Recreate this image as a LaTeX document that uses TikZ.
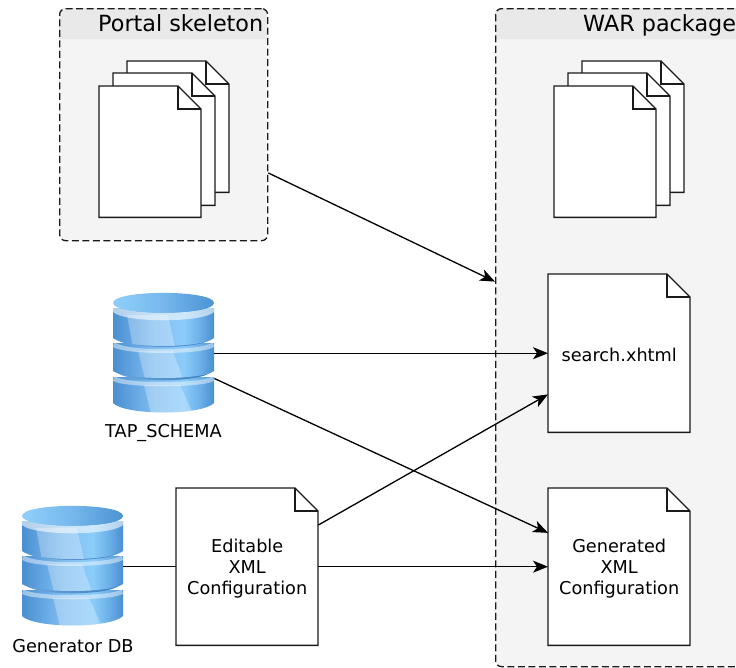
\documentclass[tikz,border=0pt]{standalone}
\usepackage{fontspec}
\setmainfont{DejaVu Sans}
\usetikzlibrary{arrows.meta,calc}
\definecolor{groupfill}{HTML}{F4F4F4}
\definecolor{headfill}{HTML}{E9E9E9}
\definecolor{linecol}{HTML}{1A1A1A}
\definecolor{grooveblue}{HTML}{3F7FBE}
\definecolor{groovelight}{HTML}{6FA6DC}
\pgfdeclarehorizontalshading{bandshade}{100bp}{
  rgb(0bp)=(0.29,0.56,0.82);
  rgb(25bp)=(0.29,0.56,0.82);
  rgb(36bp)=(0.40,0.66,0.89);
  rgb(45bp)=(0.50,0.74,0.94);
  rgb(60bp)=(0.55,0.80,0.98);
  rgb(68bp)=(0.42,0.69,0.91);
  rgb(75bp)=(0.29,0.56,0.82);
  rgb(100bp)=(0.29,0.56,0.82)}
\pgfdeclarehorizontalshading{topshade}{100bp}{
  rgb(0bp)=(0.56,0.81,0.98);
  rgb(25bp)=(0.56,0.81,0.98);
  rgb(50bp)=(0.46,0.72,0.93);
  rgb(75bp)=(0.30,0.58,0.83);
  rgb(100bp)=(0.30,0.58,0.83)}
\tikzset{
  x=1pt,y=-1pt,
  groupbox/.style={draw=linecol,line width=1.3pt,dash pattern=on 7pt off 3.5pt,rounded corners=6pt,inner sep=0pt,anchor=north west},
  docbox/.style={inner sep=0pt,anchor=north west,align=center,font=\fontsize{17.7pt}{21pt}\selectfont,text=black},
  doctext/.style={docbox,anchor=center,yshift=-1.5pt},
  docline/.style={draw=linecol,line width=1.4pt,fill=white,line join=miter},
  dbbox/.style={inner sep=0pt,anchor=north west,minimum width=101pt,minimum height=120pt},
  dblabel/.style={inner sep=0pt,font=\fontsize{17.7pt}{20pt}\selectfont,text=black},
  title/.style={inner sep=0pt,anchor=base west,font=\fontsize{22.3pt}{24pt}\selectfont,text=black},
  conn/.style={draw=black,line width=1.3pt},
  arrowconn/.style={conn,-{Stealth[length=15pt,width=12pt,inset=4pt]}}
}
% name, left, top, width, height, text
\newcommand{\docnode}[6]{%
  \node[docbox,minimum width=#4pt,minimum height=#5pt] (#1) at (#2,#3) {};
  \draw[docline] (#1.north west) -- ++(#4-23,0) -- ++(23,23) |- (#1.south west) -- cycle;
  \draw[docline,fill=none] ($(#1.north west)+(#4-23,0)$) -- ++(0,23) -- ++(23,0);
  \node[doctext] at (#1.center) {#6};
}
% lower-edge curve helper: from (0,y) to (101,y) bulging down by b
\newcommand{\dbdown}[2]{(0,#1) .. controls (12,#1+1.33*#2) and (89,#1+1.33*#2) .. (101,#1)}
% band: top, bottom side, bulge, shine corners
\newcommand{\dbband}[8]{%
  \shade[shading=bandshade] (0,#1) -- \dbdown{#2}{#3} -- (101,#1) -- cycle;
  \begin{scope}
    \clip (0,#1) -- \dbdown{#2}{#3} -- (101,#1) -- cycle;
    \fill[white,opacity=.28] (#5,#4) -- (#6,#4) -- (#8,#2+#3+1) -- (#7,#2+#3+1) -- cycle;
  \end{scope}
}
\newcommand{\dbicon}[3]{%
  \node[dbbox] (#1) at (#2,#3) {};
  \begin{scope}[shift={(#1.north west)}]
    % bottom band
    \dbband{84}{110}{9.5}{92}{31}{67}{38}{80}
    \fill[white,opacity=.45] (1,83) .. controls (12,91.3) and (89,91.3) .. (100,83) -- (101,88) .. controls (89,95) and (12,95) .. (0,88) -- cycle;
    \shade[left color=groovelight,right color=grooveblue] (3,79) .. controls (14,90) and (87,90) .. (98,79) -- (98,76) -- (3,76) -- cycle;
    % middle band
    \dbband{50}{78}{7}{58}{25}{60}{32}{70}
    \fill[white,opacity=.45] (1,49) .. controls (12,58.6) and (89,58.6) .. (100,49) -- (101,54) .. controls (89,62) and (12,62) .. (0,54) -- cycle;
    \shade[left color=groovelight,right color=grooveblue] (3,46) .. controls (14,56.6) and (87,56.6) .. (98,46) -- (98,43) -- (3,43) -- cycle;
    % top band
    \dbband{15}{45}{8}{22}{14}{55}{20}{62}
    \fill[white,opacity=.42] (0,10) .. controls (0,23) and (101,23) .. (101,10) -- (101,19) .. controls (89,30) and (12,30) .. (0,19) -- cycle;
    \shade[shading=topshade] (0,10) .. controls (0,-3.5) and (101,-3.5) .. (101,10) .. controls (101,23) and (0,23) .. (0,10) -- cycle;
    \fill[white,opacity=.28] (0,10) .. controls (0,23) and (101,23) .. (101,10) -- (101,19) .. controls (89,30) and (12,30) .. (0,19) -- cycle;
    \shade[shading=topshade] (2,10) .. controls (2,-2.5) and (99,-2.5) .. (99,10) .. controls (99,23) and (2,23) .. (2,10) -- cycle;
  \end{scope}
}
\begin{document}
\begin{tikzpicture}
\useasboundingbox (0,0) rectangle (736,667);
\clip (0,0) rectangle (736,667);
% groups
\fill[groupfill,rounded corners=6pt] (59,8) rectangle (267,240);
\fill[groupfill,rounded corners=6pt] (495,8) rectangle (750,666);
\fill[headfill,rounded corners=6pt] (59,39) -- (59,8) -- (267,8) -- (267,39);
\fill[headfill,rounded corners=6pt] (495,39) -- (495,8) -- (750,8) -- (750,39);
\node[groupbox,minimum width=208pt,minimum height=232pt] (portal) at (59,8) {};
\node[groupbox,minimum width=255pt,minimum height=658pt] (war) at (495,8) {};
\node[title] (portaltitle) at (98,31) {Portal skeleton};
\node[title] (wartitle) at (583,31) {WAR package};
% stacks
\docnode{pa}{127}{61}{102}{131}{}
\docnode{pb}{113}{73}{102}{132}{}
\docnode{pc}{99}{86}{102}{131}{}
\docnode{wa}{582}{61}{102}{131}{}
\docnode{wb}{568}{73}{102}{132}{}
\docnode{wc}{554}{86}{102}{131}{}
% documents
\docnode{search}{548}{274}{142}{158}{search.xhtml}
\docnode{generated}{548}{488}{142}{157}{Generated\\XML\\Configuration}
\docnode{editable}{176}{488}{142}{157}{Editable\\XML\\Configuration}
% databases
\dbicon{tap}{113}{293}
\dbicon{gendb}{22}{506}
\node[dblabel] (taplabel) at (163.5,433.5) {TAP\_SCHEMA};
\node[dblabel] (genlabel) at (73,646.5) {Generator DB};
% connectors
\draw[arrowconn] ($(portal.north east)!0.707!(portal.south east)$) -- ($(war.north west)!0.415!(war.south west)$);
\draw[arrowconn] (tap.east |- search.center) -- (search.west);
\draw[arrowconn] ($(tap.south east)!0.29!(tap.north east)$) -- ($(generated.north west)!0.285!(generated.south west)$);
\draw[arrowconn] ($(editable.north east)!0.235!(editable.south east)$) -- ($(search.north west)!0.76!(search.south west)$);
\draw[arrowconn] (editable.east) -- (generated.west);
\draw[conn] (gendb.east |- editable.west) -- (editable.west);
\end{tikzpicture}
\end{document}
